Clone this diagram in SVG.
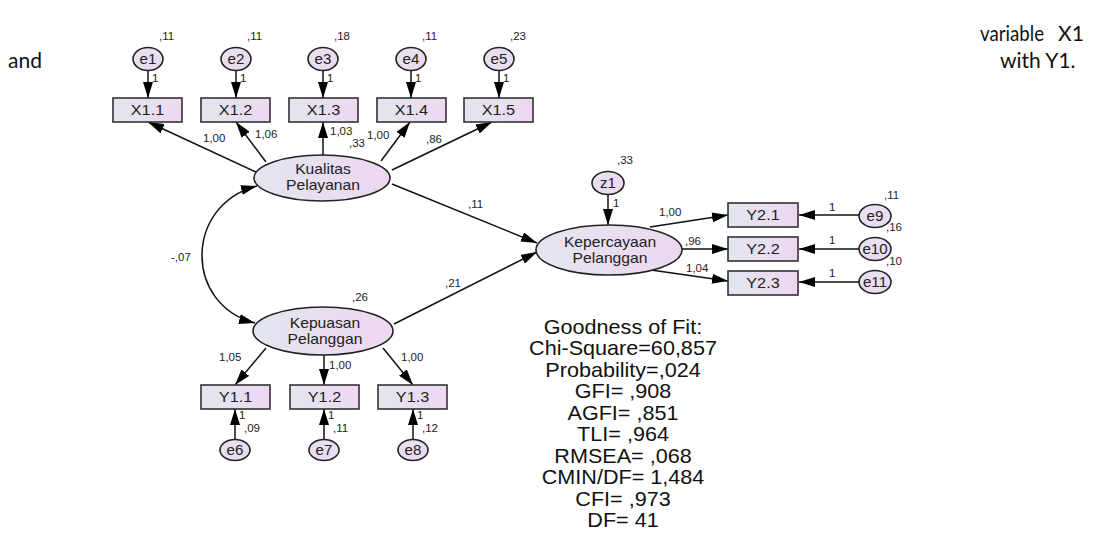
<svg xmlns="http://www.w3.org/2000/svg" width="1093" height="537" viewBox="0 0 1093 537">
<defs>
<linearGradient id="g" x1="0" y1="0" x2="1" y2="0">
<stop offset="0" stop-color="#e3e6ef"/>
<stop offset="1" stop-color="#eed7f1"/>
</linearGradient>
<linearGradient id="ge" x1="0" y1="0" x2="1" y2="1">
<stop offset="0" stop-color="#e6e3f0"/>
<stop offset="1" stop-color="#ecd8f0"/>
</linearGradient>
<marker id="ah" viewBox="0 0 16 10" refX="16" refY="5" markerWidth="16" markerHeight="10" markerUnits="userSpaceOnUse" orient="auto-start-reverse">
<path d="M0,0 L16,5 L0,10 z" fill="#000"/>
</marker>
</defs>
<style>
.bg{font-family:Lato,"Open Sans",sans-serif;font-size:21px;fill:#111}
.box{fill:url(#g);stroke:#333;stroke-width:1.6}
.lat{fill:url(#g);stroke:#222;stroke-width:1.6}
.err{fill:url(#ge);stroke:#222;stroke-width:1.6}
.t{font-family:"Liberation Sans",Arial,sans-serif;fill:#222;text-anchor:middle}
.nm{font-size:15px}
.ln{font-size:14.5px}
.en{font-size:14px}
.s{font-family:"Liberation Sans",Arial,sans-serif;font-size:11.5px;fill:#222}
.sx{transform-box:fill-box;transform-origin:center;transform:scaleX(1.08)}
.c line,.c path{stroke:#111;stroke-width:1.5;fill:none;marker-end:url(#ah)}
.gof{font-family:"Liberation Sans",Arial,sans-serif;font-size:20px;fill:#111;text-anchor:middle}
</style>
<rect width="1093" height="537" fill="#fff"/>

<text class="bg" x="980" y="41" textLength="64" lengthAdjust="spacingAndGlyphs">variable</text>
<text class="bg" x="1058" y="41">X1</text>
<text class="bg" x="8" y="68">and</text>
<text class="bg" x="1000" y="68">with Y1.</text>

<g id="connectors" class="c">
<line x1="148" y1="70" x2="148" y2="98"/>
<line x1="236" y1="70" x2="236" y2="98"/>
<line x1="323" y1="70" x2="323" y2="98"/>
<line x1="411" y1="70" x2="411" y2="98"/>
<line x1="499" y1="70" x2="499" y2="98"/>
<line x1="256" y1="172" x2="148" y2="122"/>
<line x1="266" y1="162" x2="236" y2="122"/>
<line x1="323" y1="155" x2="323" y2="122"/>
<line x1="381" y1="161" x2="410" y2="122"/>
<line x1="392" y1="170" x2="492" y2="122"/>
<path d="M257,186 C184,205 184,305 255,323" style="marker-start:url(#ah)"/>
<line x1="392" y1="184" x2="537" y2="243"/>
<line x1="394" y1="324" x2="537" y2="252"/>
<line x1="266" y1="348" x2="235" y2="385"/>
<line x1="324" y1="355" x2="324" y2="385"/>
<line x1="383" y1="348" x2="413" y2="385"/>
<line x1="235" y1="440" x2="235" y2="409"/>
<line x1="324" y1="440" x2="324" y2="409"/>
<line x1="413" y1="440" x2="413" y2="409"/>
<line x1="608" y1="194" x2="608" y2="225"/>
<line x1="650" y1="227" x2="728" y2="215"/>
<line x1="682" y1="249" x2="728" y2="249"/>
<line x1="651" y1="270" x2="728" y2="281"/>
<line x1="859" y1="215" x2="799" y2="215"/>
<line x1="859" y1="249" x2="799" y2="249"/>
<line x1="859" y1="282" x2="799" y2="282"/>
</g>

<g id="e1"><ellipse class="err" cx="148" cy="59" rx="15" ry="11.5"/><text class="t en sx" x="148" y="64">e1</text></g>
<g id="e2"><ellipse class="err" cx="236" cy="59" rx="15" ry="11.5"/><text class="t en sx" x="236" y="64">e2</text></g>
<g id="e3"><ellipse class="err" cx="323" cy="59" rx="15" ry="11.5"/><text class="t en sx" x="323" y="64">e3</text></g>
<g id="e4"><ellipse class="err" cx="411" cy="59" rx="15" ry="11.5"/><text class="t en sx" x="411" y="64">e4</text></g>
<g id="e5"><ellipse class="err" cx="499" cy="59" rx="15" ry="11.5"/><text class="t en sx" x="499" y="64">e5</text></g>

<g id="X1.1"><rect class="box" x="113" y="98" width="69" height="24"/><text class="t nm sx" x="147.5" y="115.5">X1.1</text></g>
<g id="X1.2"><rect class="box" x="201" y="98" width="69" height="24"/><text class="t nm sx" x="235.5" y="115.5">X1.2</text></g>
<g id="X1.3"><rect class="box" x="289" y="98" width="69" height="24"/><text class="t nm sx" x="323.5" y="115.5">X1.3</text></g>
<g id="X1.4"><rect class="box" x="377" y="98" width="69" height="24"/><text class="t nm sx" x="411.5" y="115.5">X1.4</text></g>
<g id="X1.5"><rect class="box" x="464" y="98" width="69" height="24"/><text class="t nm sx" x="498.5" y="115.5">X1.5</text></g>

<g id="KualitasPelayanan"><ellipse class="lat" cx="322" cy="178" rx="68" ry="23"/><text class="t ln sx" x="323" y="174">Kualitas</text><text class="t ln sx" x="323" y="190.5">Pelayanan</text></g>
<g id="KepuasanPelanggan"><ellipse class="lat" cx="323" cy="331" rx="70" ry="24"/><text class="t ln sx" x="325" y="328">Kepuasan</text><text class="t ln sx" x="325" y="344.5">Pelanggan</text></g>
<g id="KepercayaanPelanggan"><ellipse class="lat" cx="609" cy="250" rx="73" ry="25"/><text class="t ln sx" x="610" y="247">Kepercayaan</text><text class="t ln sx" x="610" y="263.5">Pelanggan</text></g>
<g id="z1"><ellipse class="err" cx="608" cy="183" rx="16" ry="11.5"/><text class="t en sx" x="608" y="188">z1</text></g>

<g id="Y1.1"><rect class="box" x="201" y="385" width="69" height="24"/><text class="t nm sx" x="235.5" y="402.5">Y1.1</text></g>
<g id="Y1.2"><rect class="box" x="290" y="385" width="69" height="24"/><text class="t nm sx" x="324.5" y="402.5">Y1.2</text></g>
<g id="Y1.3"><rect class="box" x="378" y="385" width="69" height="24"/><text class="t nm sx" x="412.5" y="402.5">Y1.3</text></g>
<g id="e6"><ellipse class="err" cx="235" cy="450" rx="15" ry="10.5"/><text class="t en sx" x="235" y="455">e6</text></g>
<g id="e7"><ellipse class="err" cx="324" cy="450" rx="15" ry="10.5"/><text class="t en sx" x="324" y="455">e7</text></g>
<g id="e8"><ellipse class="err" cx="413" cy="450" rx="15" ry="10.5"/><text class="t en sx" x="413" y="455">e8</text></g>

<g id="Y2.1"><rect class="box" x="728" y="203" width="70" height="24"/><text class="t nm sx" x="763" y="220.5">Y2.1</text></g>
<g id="Y2.2"><rect class="box" x="728" y="237" width="70" height="24"/><text class="t nm sx" x="763" y="254.5">Y2.2</text></g>
<g id="Y2.3"><rect class="box" x="728" y="271" width="70" height="24"/><text class="t nm sx" x="763" y="288.5">Y2.3</text></g>
<g id="e9"><ellipse class="err" cx="875" cy="216" rx="16" ry="11.5"/><text class="t en sx" x="875" y="221">e9</text></g>
<g id="e10"><ellipse class="err" cx="875" cy="249" rx="16" ry="11.5"/><text class="t en sx" x="875" y="254">e10</text></g>
<g id="e11"><ellipse class="err" cx="875" cy="282" rx="16" ry="11.5"/><text class="t en sx" x="875" y="287">e11</text></g>

<g id="labels">
<text class="s" x="159" y="40">,11</text>
<text class="s" x="247" y="40">,11</text>
<text class="s" x="334" y="40">,18</text>
<text class="s" x="422" y="40">,11</text>
<text class="s" x="510" y="40">,23</text>
<text class="s" x="152" y="82">1</text>
<text class="s" x="240" y="82">1</text>
<text class="s" x="327" y="82">1</text>
<text class="s" x="415" y="82">1</text>
<text class="s" x="503" y="82">1</text>
<text class="s" x="203" y="142">1,00</text>
<text class="s" x="255" y="138">1,06</text>
<text class="s" x="330" y="135">1,03</text>
<text class="s" x="349" y="147">,33</text>
<text class="s" x="367" y="139">1,00</text>
<text class="s" x="426" y="143">,86</text>
<text class="s" x="468" y="208">,11</text>
<text class="s" x="171" y="261">-,07</text>
<text class="s" x="445" y="287">,21</text>
<text class="s" x="352" y="301">,26</text>
<text class="s" x="219" y="361">1,05</text>
<text class="s" x="329" y="369">1,00</text>
<text class="s" x="401" y="361">1,00</text>
<text class="s" x="239" y="419">1</text>
<text class="s" x="244" y="432">,09</text>
<text class="s" x="328" y="419">1</text>
<text class="s" x="333" y="432">,11</text>
<text class="s" x="417" y="419">1</text>
<text class="s" x="422" y="432">,12</text>
<text class="s" x="617" y="164">,33</text>
<text class="s" x="613" y="207">1</text>
<text class="s" x="659" y="216">1,00</text>
<text class="s" x="685" y="245">,96</text>
<text class="s" x="686" y="272">1,04</text>
<text class="s" x="829" y="211">1</text>
<text class="s" x="829" y="244">1</text>
<text class="s" x="829" y="277">1</text>
<text class="s" x="884" y="199">,11</text>
<text class="s" x="886" y="231">,16</text>
<text class="s" x="886" y="265">,10</text>
</g>

<g id="goodness">
<text class="gof sx" x="623" y="334">Goodness of Fit:</text>
<text class="gof sx" x="623" y="355.5">Chi-Square=60,857</text>
<text class="gof sx" x="623" y="377">Probability=,024</text>
<text class="gof sx" x="623" y="398.5">GFI= ,908</text>
<text class="gof sx" x="623" y="420">AGFI= ,851</text>
<text class="gof sx" x="623" y="441.5">TLI= ,964</text>
<text class="gof sx" x="623" y="463">RMSEA= ,068</text>
<text class="gof sx" x="623" y="484.5">CMIN/DF= 1,484</text>
<text class="gof sx" x="623" y="506">CFI= ,973</text>
<text class="gof sx" x="623" y="527.5">DF= 41</text>
</g>
</svg>
